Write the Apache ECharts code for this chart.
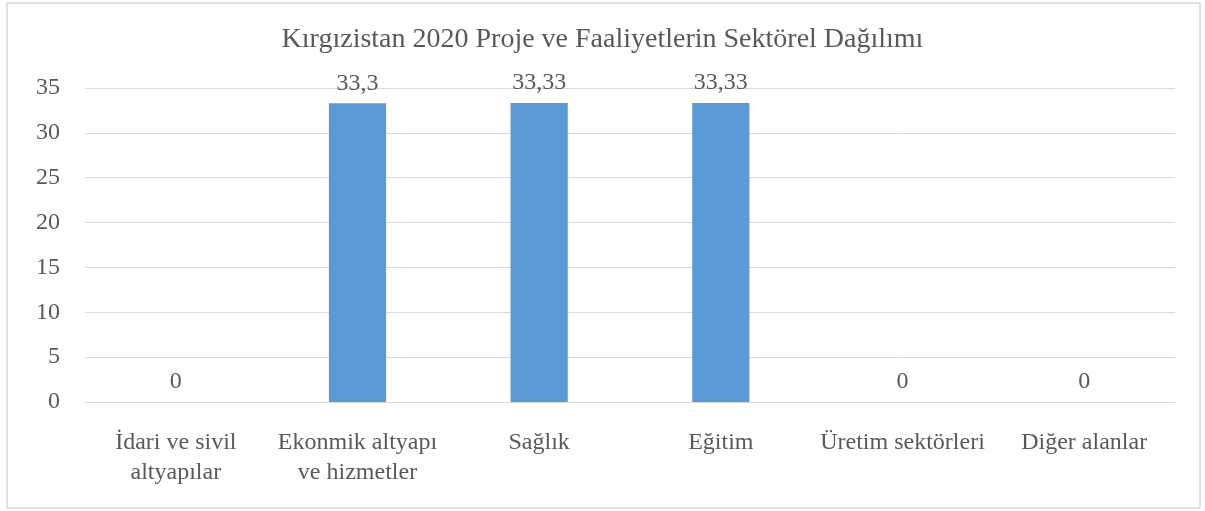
<!DOCTYPE html>
<html>
<head>
<meta charset="utf-8">
<script src="https://cdn.jsdelivr.net/npm/echarts@6/dist/echarts.min.js"></script>
<style>
  html, body { margin: 0; padding: 0; background: #fff; }
  #chart { width: 1205px; height: 511px; }
</style>
</head>
<body>
<div id="chart"></div>
<script>
// 数据
const categories = ['İdari ve sivil\naltyapılar', 'Ekonmik altyapı\nve hizmetler', 'Sağlık', 'Eğitim', 'Üretim sektörleri', 'Diğer alanlar'];
const values = [0, 33.3, 33.33, 33.33, 0, 0];
const valueLabels = ['0', '33,3', '33,33', '33,33', '0', '0'];
const chartTitle = 'Kırgızistan 2020 Proje ve Faaliyetlerin Sektörel Dağılımı';

const serif = '"Liberation Serif", "DejaVu Serif", serif';
const textColor = '#595959';

const chart = echarts.init(document.getElementById('chart'));

chart.setOption({
  animation: false,
  title: {
    text: chartTitle,
    left: 'center',
    top: 21,
    textStyle: {
      fontFamily: serif,
      fontSize: 28,
      fontWeight: 'normal',
      color: textColor
    }
  },
  graphic: [
    {
      type: 'rect',
      shape: { x: 7, y: 3, width: 1193, height: 505 },
      style: { fill: 'none', stroke: '#d9d9d9', lineWidth: 1.5 }
    }
  ],
  grid: {
    left: 85,
    right: 30,
    top: 88,
    bottom: 109,
    containLabel: false
  },
  xAxis: {
    type: 'category',
    data: categories,
    axisLine: { show: true, lineStyle: { color: '#d9d9d9', width: 1 } },
    axisTick: { show: false },
    axisLabel: {
      fontFamily: serif,
      fontSize: 24,
      color: textColor,
      margin: 26,
      lineHeight: 30,
      interval: 0
    }
  },
  yAxis: {
    type: 'value',
    min: 0,
    max: 35,
    interval: 5,
    axisLine: { show: false },
    axisTick: { show: false },
    splitLine: { lineStyle: { color: '#d9d9d9', width: 1 } },
    axisLabel: {
      fontFamily: serif,
      fontSize: 24,
      color: textColor,
      margin: 25
    }
  },
  series: [
    {
      type: 'bar',
      data: values,
      barWidth: '31.5%',
      itemStyle: { color: '#5b9bd5' },
      label: {
        show: true,
        position: 'top',
        distance: 8,
        fontFamily: serif,
        fontSize: 24,
        color: textColor,
        formatter: p => valueLabels[p.dataIndex]
      }
    }
  ]
});
</script>
</body>
</html>
